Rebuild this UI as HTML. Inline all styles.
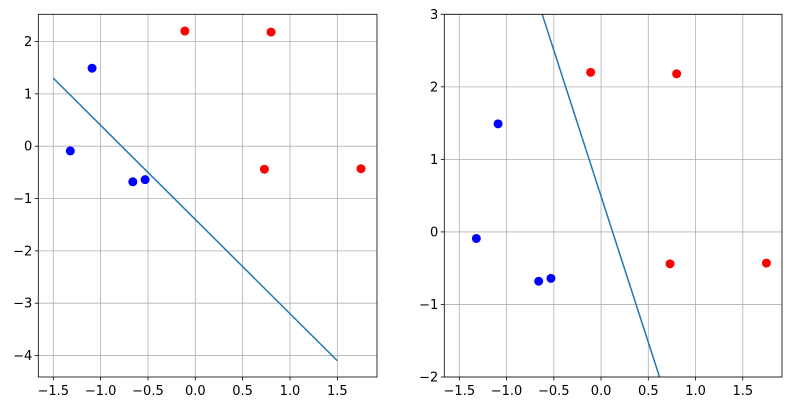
<!DOCTYPE html>
<html><head><meta charset="utf-8"><style>
html,body{margin:0;padding:0;background:#fff;}
svg{display:block;font-family:"DejaVu Sans","Liberation Sans",sans-serif;}
</style></head><body>
<svg id="chart" width="792" height="409" viewBox="0 0 792 409" xmlns="http://www.w3.org/2000/svg"></svg>
<script>
const blueX = [-1.32, -1.09, -0.66, -0.53];
const blueY = [-0.09, 1.49, -0.68, -0.64];
const redX = [-0.11, 0.80, 0.73, 1.75];
const redY = [2.20, 2.18, -0.44, -0.43];
const line1X = [-1.5, 1.5];
const line1Y = [1.3, -4.1];
const line2X = [-0.623, 0.619];
const line2Y = [3, -2];
const xTicks = [-1.5, -1.0, -0.5, 0.0, 0.5, 1.0, 1.5];
const xTickLabels = ["−1.5","−1.0","−0.5","0.0","0.5","1.0","1.5"];
const y1Ticks = [2, 1, 0, -1, -2, -3, -4];
const y1TickLabels = ["2","1","0","−1","−2","−3","−4"];
const y2Ticks = [3, 2, 1, 0, -1, -2];
const y2TickLabels = ["3","2","1","0","−1","−2"];

const NS = "http://www.w3.org/2000/svg";
const svg = document.getElementById('chart');
function mk(tag, attrs, parent){const e=document.createElementNS(NS,tag);for(const k in attrs)e.setAttribute(k,attrs[k]);(parent||svg).appendChild(e);return e;}

function panel(name, box, xr, yr, yTicks, yLabels, lx, ly){
  const g = mk('g',{});
  
  
  const sx = v => box.l + (v - xr[0])/(xr[1]-xr[0])*(box.r-box.l);
  const sy = v => box.b - (v - yr[0])/(yr[1]-yr[0])*(box.b-box.t);
  const clipId = name + '-clip';
  const cp = mk('clipPath',{id:clipId}, g);
  mk('rect',{x:box.l,y:box.t,width:box.r-box.l,height:box.b-box.t}, cp);
  xTicks.forEach((t,i)=>{
    const x = sx(t);
    const gl = mk('line',{x1:x,x2:x,y1:box.t,y2:box.b,stroke:'#b0b0b0','stroke-width':0.8}, g);
    
    
    mk('line',{x1:x,x2:x,y1:box.b,y2:box.b+3.5,stroke:'#000','stroke-width':0.8}, g);
    const tx = mk('text',{x:x,y:box.b+18,'font-size':13,'text-anchor':'middle',fill:'#000'}, g);
    tx.textContent = xTickLabels[i];
    
    
  });
  yTicks.forEach((t,i)=>{
    const y = sy(t);
    const gl = mk('line',{x1:box.l,x2:box.r,y1:y,y2:y,stroke:'#b0b0b0','stroke-width':0.8}, g);
    
    
    mk('line',{x1:box.l-3.5,x2:box.l,y1:y,y2:y,stroke:'#000','stroke-width':0.8}, g);
    const tx = mk('text',{x:box.l-6,y:y+4.5,'font-size':13,'text-anchor':'end',fill:'#000'}, g);
    tx.textContent = yLabels[i];
    
    
  });
  const ln = mk('line',{x1:sx(lx[0]),y1:sy(ly[0]),x2:sx(lx[1]),y2:sy(ly[1]),stroke:'#1f77b4','stroke-width':1.5,'clip-path':'url(#'+clipId+')'}, g);
  
  
  blueX.forEach((v,i)=>{
    const c = mk('circle',{cx:sx(v),cy:sy(blueY[i]),r:4.5,fill:'#0000ff'}, g);
    
    
  });
  redX.forEach((v,i)=>{
    const c = mk('circle',{cx:sx(v),cy:sy(redY[i]),r:4.5,fill:'#ff0000'}, g);
    
    
  });
  const fr = mk('rect',{x:box.l,y:box.t,width:box.r-box.l,height:box.b-box.t,fill:'none',stroke:'#000','stroke-width':0.8}, g);
  
  
}
panel('left-plot', {l:38.3,r:377,t:14.3,b:377}, [-1.658,1.919], [-4.41,2.52], y1Ticks, y1TickLabels, line1X, line1Y);
panel('right-plot', {l:444.3,r:782,t:14.3,b:377}, [-1.659,1.915], [-2,3], y2Ticks, y2TickLabels, line2X, line2Y);
</script>
</body></html>
